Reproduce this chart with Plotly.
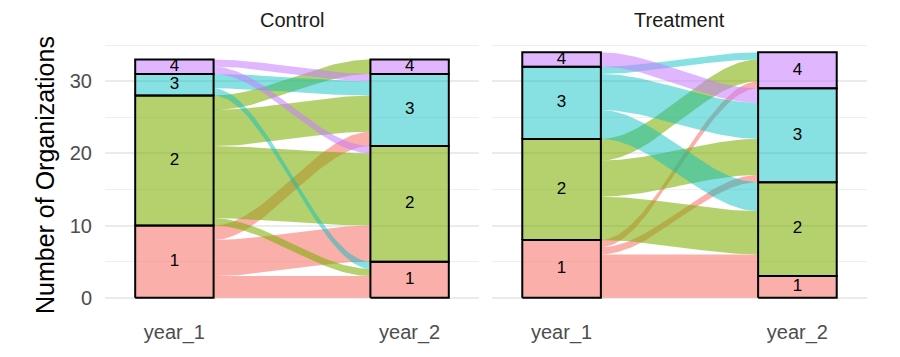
import numpy as np
import plotly.graph_objects as go
from plotly.subplots import make_subplots

# ---------------- data ----------------
axes_labels = ["year_1", "year_2"]
strata = [1, 2, 3, 4]
facets = ["Control", "Treatment"]

control_from = [1, 1, 1, 2, 2, 2, 2, 3, 3, 4, 4]
control_to   = [1, 2, 3, 1, 2, 3, 4, 1, 3, 2, 3]
control_n    = [3, 5, 2, 1, 10, 5, 2, 1, 2, 1, 1]

treatment_from = [1, 1, 1, 1, 2, 2, 2, 3, 3, 3, 4]
treatment_to   = [1, 2, 3, 4, 2, 3, 4, 2, 3, 4, 3]
treatment_n    = [3, 3, 1, 1, 6, 5, 3, 4, 5, 1, 2]

y_ticks = [0, 10, 20, 30]

# ---------------- style ----------------
base_colors = {1: (248, 118, 109), 2: (124, 174, 0), 3: (0, 191, 196), 4: (199, 124, 255)}
ALPHA = {1: 0.58, 2: 0.57, 3: 0.47, 4: 0.55}
W = 1 / 3
FONT = "Liberation Sans, Arial, sans-serif"

# the page body adds an 8px offset; compensate so the picture lands where intended
OFF = 8
FIG_W, FIG_H = 900 - OFF, 357 - OFF


def rgba(c, a):
    return f"rgba({c[0]},{c[1]},{c[2]},{a})"


def smooth(t):
    return 3 * t ** 2 - 2 * t ** 3


fig = make_subplots(rows=1, cols=2, shared_yaxes=True, horizontal_spacing=0.02)

for col, (frm, to, n) in enumerate(
        [(control_from, control_to, control_n), (treatment_from, treatment_to, treatment_n)], start=1):
    frm = np.array(frm); to = np.array(to); n = np.array(n)
    tot1 = {s: n[frm == s].sum() for s in strata}
    tot2 = {s: n[to == s].sum() for s in strata}
    base1, base2 = {}, {}
    c = 0
    for s in strata:
        base1[s] = c; c += tot1[s]
    c = 0
    for s in strata:
        base2[s] = c; c += tot2[s]
    pos1, pos2 = {}, {}
    for s in strata:
        c = base1[s]
        for i in sorted(np.where(frm == s)[0], key=lambda k: to[k]):
            pos1[i] = (c, c + n[i]); c += n[i]
        c = base2[s]
        for i in sorted(np.where(to == s)[0], key=lambda k: frm[k]):
            pos2[i] = (c, c + n[i]); c += n[i]
    x0, x1 = 1 + W / 2, 2 - W / 2
    t = np.linspace(0, 1, 60)
    xs = x0 + (x1 - x0) * t
    for i in range(len(n)):
        a0, a1 = pos1[i]
        b0, b1 = pos2[i]
        top = a1 + (b1 - a1) * smooth(t)
        bot = a0 + (b0 - a0) * smooth(t)
        px = np.concatenate([xs, xs[::-1]])
        py = np.concatenate([top, bot[::-1]])
        s_from = int(frm[i])
        fig.add_trace(go.Scatter(x=px, y=py, mode="lines", fill="toself",
                                 fillcolor=rgba(base_colors[s_from], ALPHA[s_from]),
                                 line=dict(width=0), hoverinfo="skip", showlegend=False),
                      row=1, col=col)
    lx, ly, lt = [], [], []
    for ax_i, (base, tot) in enumerate([(base1, tot1), (base2, tot2)], start=1):
        for s in strata:
            if tot[s] == 0:
                continue
            y0, y1 = base[s], base[s] + tot[s]
            fig.add_trace(go.Scatter(
                x=[ax_i - W / 2, ax_i + W / 2, ax_i + W / 2, ax_i - W / 2, ax_i - W / 2],
                y=[y0, y0, y1, y1, y0], mode="lines", fill="toself",
                fillcolor=rgba(base_colors[s], ALPHA[s]),
                line=dict(color="black", width=2), hoverinfo="skip", showlegend=False),
                row=1, col=col)
            lx.append(ax_i); ly.append((y0 + y1) / 2); lt.append(str(s))
    fig.add_trace(go.Scatter(x=lx, y=ly, text=lt, mode="text",
                             textfont=dict(family=FONT, size=17, color="black"),
                             hoverinfo="skip", showlegend=False), row=1, col=col)

# target pixel positions in the 900x357 window
L, R, T, B = 105, 867, 40, 310
PW = R - L
dom1 = [0, (479 - L) / PW]
dom2 = [(492 - L) / PW, 1]

xcommon = dict(range=[0.705, 2.295], tickvals=[1, 2], ticktext=axes_labels, showgrid=False,
               zeroline=False, showline=False, ticks="outside", ticklen=4, automargin=False,
               tickcolor="rgba(0,0,0,0)", tickfont=dict(family=FONT, size=20, color="#4D4D4D"))
fig.update_xaxes(**xcommon)
fig.update_layout(xaxis=dict(domain=dom1), xaxis2=dict(domain=dom2))

ycommon = dict(range=[-1.7, 35.7], tickvals=y_ticks, showgrid=True, gridcolor="#EBEBEB",
               gridwidth=1.6, zeroline=False, showline=False, automargin=False,
               minor=dict(dtick=5, tick0=0, showgrid=True, gridcolor="#EFEFEF", gridwidth=0.8),
               ticks="outside", ticklen=8, tickcolor="rgba(0,0,0,0)",
               tickfont=dict(family=FONT, size=20, color="#4D4D4D"))
fig.update_yaxes(**ycommon)

fig.update_layout(
    width=FIG_W, height=FIG_H,
    margin=dict(l=L - OFF, r=FIG_W - (R - OFF), t=T - OFF, b=FIG_H - (B - OFF)),
    plot_bgcolor="white", paper_bgcolor="white",
    showlegend=False,
    annotations=[
        dict(text="Control", xref="paper", yref="paper", x=sum(dom1) / 2, y=1, yshift=20,
             xanchor="center", yanchor="middle", showarrow=False,
             font=dict(family=FONT, size=20, color="#1A1A1A")),
        dict(text="Treatment", xref="paper", yref="paper", x=sum(dom2) / 2, y=1, yshift=20,
             xanchor="center", yanchor="middle", showarrow=False,
             font=dict(family=FONT, size=20, color="#1A1A1A")),
        dict(text="Number of Organizations", xref="paper", yref="paper",
             x=-(L - 45) / PW, y=0.5, xanchor="center", yanchor="middle", textangle=-90,
             showarrow=False, font=dict(family=FONT, size=25, color="black")),
    ],
)

fig.write_html("out.html")
